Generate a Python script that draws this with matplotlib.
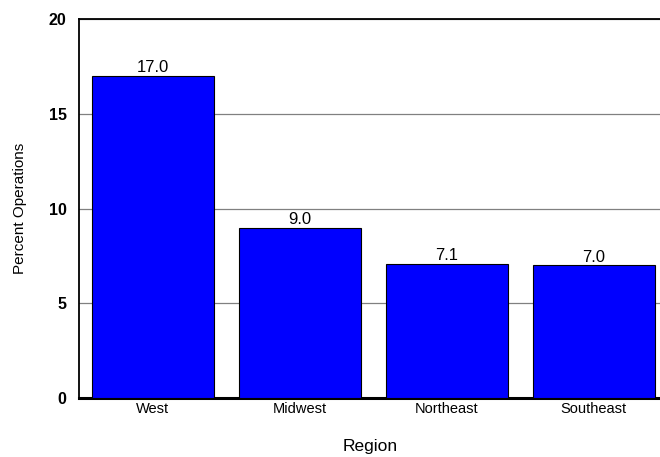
import matplotlib
matplotlib.use("Agg")
import matplotlib.pyplot as plt

plt.rcParams["font.family"] = ["Liberation Sans", "DejaVu Sans"]

regions = ["West", "Midwest", "Northeast", "Southeast"]
percent_ops = [17.0, 9.0, 7.1, 7.0]
y_ticks = [0, 5, 10, 15, 20]

fig = plt.figure(figsize=(6.6, 4.57), dpi=100)
ax = fig.add_axes([0.1197, 0.129, 0.8803, 0.829])

x = list(range(len(regions)))
bars = ax.bar(x, percent_ops, width=0.83, color="#0000ff", edgecolor="black",
              linewidth=0.8, zorder=3)
for rect, val in zip(bars, percent_ops):
    ax.text(rect.get_x() + rect.get_width() / 2, val + 0.03, f"{val:.1f}",
            ha="center", va="bottom", fontsize=12, zorder=4)

ax.set_xlim(-0.503, 3.45)
ax.set_ylim(0, 20)
ax.set_yticks(y_ticks)
ax.set_yticklabels([str(t) for t in y_ticks], fontweight="bold", fontsize=11.5)
ax.set_xticks(x)
ax.set_xticklabels(regions, fontsize=10.5)
ax.tick_params(axis="both", length=0)
ax.tick_params(axis="x", pad=3)
ax.tick_params(axis="y", pad=9)

ax.yaxis.grid(True, color="#808080", linewidth=0.9, zorder=0)
ax.set_axisbelow(True)

ax.spines["right"].set_visible(False)
ax.spines["top"].set_linewidth(1.3)
ax.spines["left"].set_linewidth(1.3)
ax.spines["bottom"].set_linewidth(2.2)

ax.set_ylabel("Percent Operations", fontsize=11)
ax.yaxis.set_label_coords(-0.089, 0.5)
ax.set_xlabel("Region", fontsize=12.5)
ax.xaxis.set_label_coords(0.501, -0.108)

fig.savefig("out.png", dpi=100)
